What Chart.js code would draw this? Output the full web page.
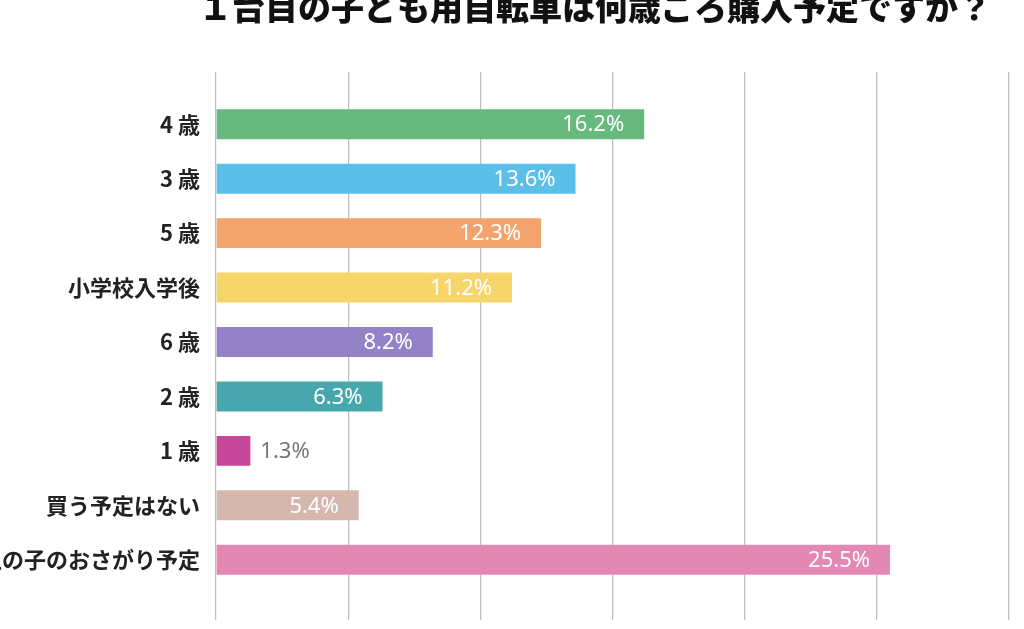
<!DOCTYPE html>
<html><head><meta charset="utf-8">
<script src="https://cdn.jsdelivr.net/npm/chart.js@4"></script>
<style>html,body{margin:0;padding:0;background:#fff;overflow:hidden}#wrap{width:1024px;height:629px;position:relative}</style>
</head><body><div id="wrap"><canvas id="c"></canvas></div>
<script>
const chartTitle = "１台目の子ども用自転車は何歳ごろ購入予定ですか？";
const categories = ["4 歳","3 歳","5 歳","小学校入学後","6 歳","2 歳","1 歳","買う予定はない","上の子のおさがり予定"];
const values = [16.2,13.6,12.3,11.2,8.2,6.3,1.3,5.4,25.5];
const barColors = ["#67b97e","#5bbfe8","#f2a46c","#f6d56b","#9482c8","#48a6ad","#c8479b","#d6b7ae","#e288b3"];
const xTicks = [0,5,10,15,20,25,30];

const titlePlugin = {
  id:'topTitle',
  afterDraw(chart){
    const ctx = chart.ctx;
    ctx.save();
    ctx.font = '900 33px "Noto Sans CJK JP"';
    ctx.fillStyle = '#111';
    ctx.textAlign = 'center';
    ctx.textBaseline = 'alphabetic';
    ctx.fillText(chartTitle, 595, 20);
    ctx.restore();
  }
};
const valuePlugin = {
  id:'valueLabels',
  afterDatasetsDraw(chart){
    const ctx = chart.ctx;
    const meta = chart.getDatasetMeta(0);
    ctx.save();
    ctx.font = '400 22px "Noto Sans"';
    ctx.textBaseline = 'middle';
    meta.data.forEach((bar,i)=>{
      const txt = values[i].toFixed(1) + '%';
      const w = ctx.measureText(txt).width;
      const len = bar.x - bar.base;
      if (w + 30 < len) {
        ctx.fillStyle = '#ffffff'; ctx.textAlign = 'right';
        ctx.fillText(txt, bar.x - 20, bar.y + 1);
      } else {
        ctx.fillStyle = '#777777'; ctx.textAlign = 'left';
        ctx.fillText(txt, bar.x + 10, bar.y + 1);
      }
    });
    ctx.restore();
  }
};

new Chart(document.getElementById('c'), {
  type:'bar',
  data:{ labels:categories, datasets:[{ data:values, backgroundColor:barColors, borderWidth:0, barPercentage:0.55, categoryPercentage:1 }]},
  options:{
    indexAxis:'y', responsive:true, maintainAspectRatio:false, animation:false,
    layout:{ padding:{ top:72, bottom:9, right:15, left:0 } },
    plugins:{ legend:{display:false}, tooltip:{enabled:false}, title:{display:false} },
    scales:{
      x:{ position:'bottom', min:xTicks[0], max:xTicks[xTicks.length-1],
          ticks:{ display:false, stepSize:xTicks[1]-xTicks[0] },
          grid:{ color:'#bdbdbd', lineWidth:1.2, drawTicks:true, tickLength:33 },
          border:{ display:false } },
      x2:{ position:'top', min:xTicks[0], max:xTicks[xTicks.length-1],
          ticks:{ display:false, stepSize:xTicks[1]-xTicks[0] },
          grid:{ color:'#bdbdbd', lineWidth:1.2, drawOnChartArea:false, drawTicks:true, tickLength:25 },
          border:{ display:false } },
      y:{ grid:{ display:false, drawTicks:false }, border:{ display:false },
          afterFit(s){ s.width = 216; },
          ticks:{ padding:16, color:'#222', font:{ family:'"Noto Sans CJK JP"', size:22, weight:'bold' } } }
    }
  },
  plugins:[titlePlugin, valuePlugin]
});
</script></body></html>
